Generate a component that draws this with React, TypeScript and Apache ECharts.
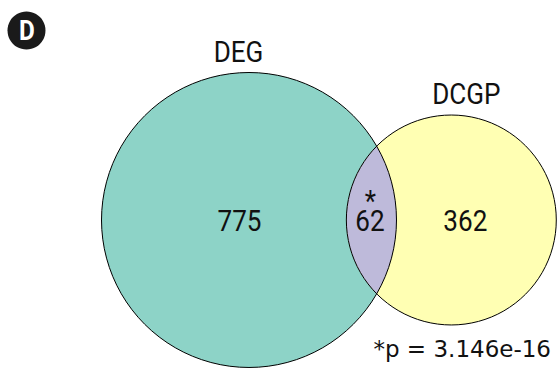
import React, { useEffect, useRef } from "react";
import * as echarts from "echarts";

// Two-set Venn: exclusive counts per set and the shared count
const setNames = ["DEG", "DCGP"];
const onlyCounts = [775, 362];
const sharedCount = 62;
const sharedMark = "*";
const pValueText = "*p = 3.146e-16";
const panelLetter = "D";

const setFills = ["#8DD3C7", "#FFFFB3"];
const sharedFill = "#BEBADA";

const W = 560;
const H = 371;
// Pixel position of the first set's centre and the scale of one area unit
const ORIGIN_PX = [249, 220];
const PX_PER_UNIT = 9.036;

// Area of the lens formed by two circles of radii r1, r2 whose centres are d apart
function lensArea(r1: number, r2: number, d: number): number {
  if (d >= r1 + r2) return 0;
  if (d <= Math.abs(r1 - r2)) return Math.PI * Math.min(r1, r2) ** 2;
  const a1 = Math.acos((d * d + r1 * r1 - r2 * r2) / (2 * d * r1));
  const a2 = Math.acos((d * d + r2 * r2 - r1 * r1) / (2 * d * r2));
  const k = Math.sqrt((-d + r1 + r2) * (d + r1 - r2) * (d - r1 + r2) * (d + r1 + r2));
  return r1 * r1 * a1 + r2 * r2 * a2 - 0.5 * k;
}

// Centre distance for which the overlap area equals the shared count
function solveDistance(r1: number, r2: number, target: number): number {
  let lo = Math.abs(r1 - r2);
  let hi = r1 + r2;
  for (let i = 0; i < 80; i++) {
    const mid = (lo + hi) / 2;
    if (lensArea(r1, r2, mid) > target) lo = mid;
    else hi = mid;
  }
  return (lo + hi) / 2;
}

const totals = onlyCounts.map((c) => c + sharedCount);
const radii = totals.map((t) => Math.sqrt(t / Math.PI));
const centerDistance = solveDistance(radii[0], radii[1], sharedCount);
const centers = [
  [0, 0],
  [centerDistance, 0],
];

const labelFont = {
  fontFamily: "Roboto",
  fontSize: 29,
  fill: "#111",
  align: "center",
  verticalAlign: "middle",
};

function renderVenn(_params: any, api: any) {
  const c1 = api.coord(centers[0]);
  const c2 = api.coord(centers[1]);
  const R1 = api.size([radii[0], 0])[0];
  const R2 = api.size([radii[1], 0])[0];
  const D = c2[0] - c1[0];
  const a = (D * D + R1 * R1 - R2 * R2) / (2 * D);
  const h = Math.sqrt(Math.max(R1 * R1 - a * a, 0));
  const tx = c1[0] + a;
  const ty = c1[1] - h;
  const bx = c1[0] + a;
  const by = c1[1] + h;
  const lensPath = `M ${tx} ${ty} A ${R1} ${R1} 0 0 1 ${bx} ${by} A ${R2} ${R2} 0 0 1 ${tx} ${ty} Z`;
  const lensMidX = (c2[0] - R2 + c1[0] + R1) / 2;
  const sx = 0.9;

  return {
    type: "group",
    children: [
      { type: "circle", shape: { cx: c1[0], cy: c1[1], r: R1 }, style: { fill: setFills[0] } },
      { type: "circle", shape: { cx: c2[0], cy: c2[1], r: R2 }, style: { fill: setFills[1] } },
      { type: "path", shape: { pathData: lensPath }, style: { fill: sharedFill } },
      {
        type: "circle",
        shape: { cx: c1[0], cy: c1[1], r: R1 },
        style: { fill: "none", stroke: "#000", lineWidth: 1 },
      },
      {
        type: "circle",
        shape: { cx: c2[0], cy: c2[1], r: R2 },
        style: { fill: "none", stroke: "#000", lineWidth: 1 },
      },
      {
        type: "text",
        x: c1[0] - 10.5,
        y: c1[1] - R1 - 20,
        scaleX: sx,
        style: { ...labelFont, text: setNames[0] },
      },
      {
        type: "text",
        x: c2[0] + 15,
        y: c2[1] - R2 - 21,
        scaleX: sx,
        style: { ...labelFont, text: setNames[1] },
      },
      {
        type: "text",
        x: c1[0] - 9.5,
        y: c1[1] + 1,
        scaleX: sx,
        style: { ...labelFont, text: String(onlyCounts[0]) },
      },
      {
        type: "text",
        x: lensMidX - 1.5,
        y: c1[1] + 1.5,
        scaleX: sx,
        style: { ...labelFont, text: String(sharedCount) },
      },
      {
        type: "text",
        x: lensMidX - 1,
        y: c1[1] - 18.5,
        scaleX: sx,
        style: { ...labelFont, text: sharedMark },
      },
      {
        type: "text",
        x: c2[0] + 14,
        y: c2[1] + 1,
        scaleX: sx,
        style: { ...labelFont, text: String(onlyCounts[1]) },
      },
    ],
  };
}

export default function App() {
  const ref = useRef<HTMLDivElement>(null);

  useEffect(() => {
    if (!ref.current) return;
    const chart = echarts.init(ref.current, null, { renderer: "svg" });
    const k = PX_PER_UNIT;
    chart.setOption({
      animation: false,
      backgroundColor: "#fff",
      grid: { left: 0, right: 0, top: 0, bottom: 0 },
      xAxis: {
        type: "value",
        show: false,
        min: -ORIGIN_PX[0] / k,
        max: (W - ORIGIN_PX[0]) / k,
      },
      yAxis: {
        type: "value",
        show: false,
        min: -(H - ORIGIN_PX[1]) / k,
        max: ORIGIN_PX[1] / k,
      },
      series: [
        {
          type: "custom",
          coordinateSystem: "cartesian2d",
          data: [[0, 0]],
          renderItem: renderVenn,
          silent: true,
          clip: false,
        },
      ],
      graphic: [
        {
          type: "circle",
          shape: { cx: 26.5, cy: 30.5, r: 19 },
          style: { fill: "#1a1a1a" },
        },
        {
          type: "text",
          x: 27,
          y: 31,
          scaleX: 0.9,
          style: {
            text: panelLetter,
            fontFamily: "Roboto",
            fontWeight: "bold",
            fontSize: 27,
            fill: "#fff",
            align: "center",
            verticalAlign: "middle",
          },
        },
        {
          type: "text",
          x: 551,
          y: 348.5,
          style: {
            text: pValueText,
            fontFamily: "DejaVu Sans",
            fontSize: 23,
            fill: "#111",
            align: "right",
            verticalAlign: "middle",
          },
        },
      ],
    });
    return () => chart.dispose();
  }, []);

  return (
    <div
      ref={ref}
      style={{ position: "fixed", left: 0, top: 0, width: W, height: H, background: "#fff" }}
    />
  );
}
